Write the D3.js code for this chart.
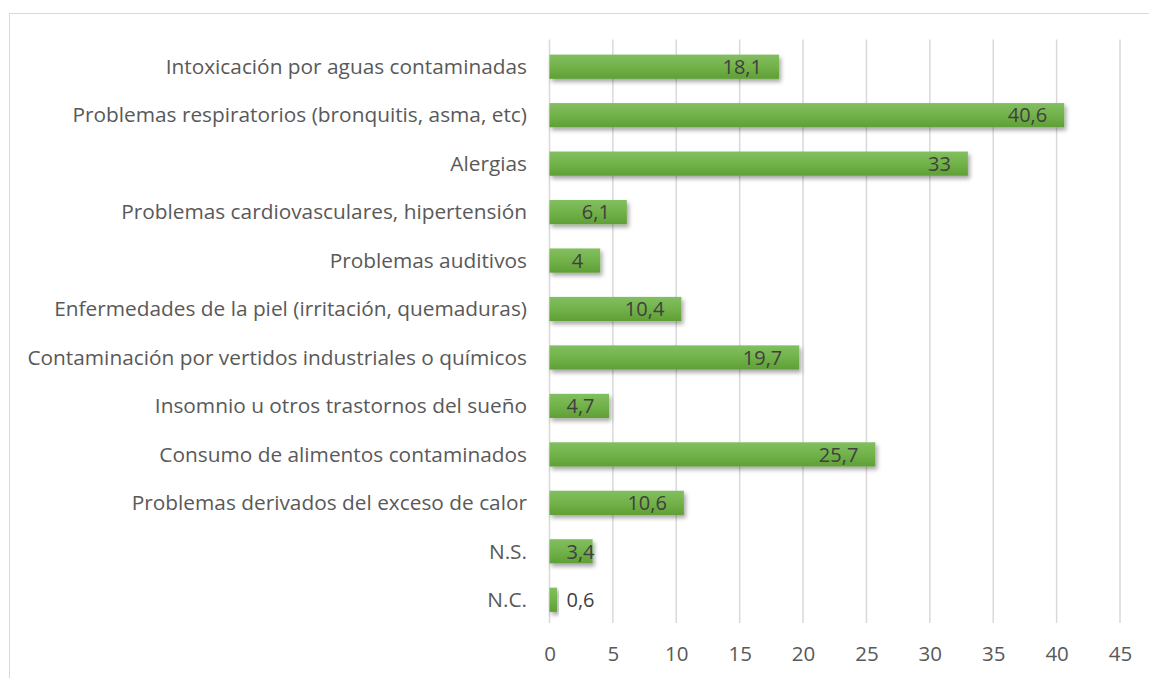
<!DOCTYPE html>
<html><head><meta charset="utf-8">
<script src="https://cdn.jsdelivr.net/npm/d3@7"></script>
<style>
html,body{margin:0;padding:0;background:#fff;}
svg{display:block;}
text{font-family:"Open Sans",Lato,sans-serif;}
</style></head>
<body>
<script>
const categories = [
  "Intoxicación por aguas contaminadas",
  "Problemas respiratorios (bronquitis, asma, etc)",
  "Alergias",
  "Problemas cardiovasculares, hipertensión",
  "Problemas auditivos",
  "Enfermedades de la piel (irritación, quemaduras)",
  "Contaminación por vertidos industriales o químicos",
  "Insomnio u otros trastornos del sueño",
  "Consumo de alimentos contaminados",
  "Problemas derivados del exceso de calor",
  "N.S.",
  "N.C."
];
const values = [18.1, 40.6, 33, 6.1, 4, 10.4, 19.7, 4.7, 25.7, 10.6, 3.4, 0.6];
const xTicks = [0, 5, 10, 15, 20, 25, 30, 35, 40, 45];

const W = 1149, H = 678;
const svg = d3.select("body").append("svg").attr("width", W).attr("height", H);

const defs = svg.append("defs");
const grad = defs.append("linearGradient").attr("id","barGrad").attr("x1",0).attr("y1",0).attr("x2",0).attr("y2",1);
grad.append("stop").attr("offset","0%").attr("stop-color","#82bf60");
grad.append("stop").attr("offset","50%").attr("stop-color","#72b24a");
grad.append("stop").attr("offset","100%").attr("stop-color","#5f9f35");
const f = defs.append("filter").attr("id","shadow").attr("x","-10%").attr("y","-30%").attr("width","130%").attr("height","190%");
f.append("feDropShadow").attr("dx",2).attr("dy",3).attr("stdDeviation",2).attr("flood-color","#000").attr("flood-opacity",0.35);

// chart border
svg.append("rect").attr("x",9.5).attr("y",13.5).attr("width",W).attr("height",H)
  .attr("fill","none").attr("stroke","#d9d9d9").attr("stroke-width",1);

const x = d3.scaleLinear().domain([0,45]).range([549.5,1120]);
const y = d3.scaleBand().domain(categories).range([42.5,624]).paddingInner(0.5).paddingOuter(0.25);

// grid
svg.append("g").selectAll("line").data(xTicks).join("line")
  .attr("x1",d=>x(d)).attr("x2",d=>x(d)).attr("y1",y.range()[0]-3).attr("y2",y.range()[1]-1)
  .attr("stroke","#d9d9d9").attr("stroke-width",1.5);

// x axis labels
const xAxis = d3.axisBottom(x).tickValues(xTicks).tickSize(0).tickPadding(0).tickFormat(d=>String(d));
const gx = svg.append("g").attr("transform","translate(0,646)").call(xAxis);
gx.select(".domain").remove();
gx.selectAll("text").attr("font-size","20.5px").attr("fill","#595959").attr("dy","0.71em").style("font-family","'Open Sans', Lato, sans-serif");

// y axis labels
const yAxis = d3.axisLeft(y).tickSize(0).tickPadding(0);
const gy = svg.append("g").attr("transform","translate(527,0)").call(yAxis);
gy.select(".domain").remove();
const ytexts = gy.selectAll("text").attr("font-size","19px").attr("fill","#595959").attr("dy","0.35em").style("font-family","'Open Sans', Lato, sans-serif");
// fit font size so the longest category label spans the same width as in the reference
let maxW = 0;
ytexts.each(function(){ maxW = Math.max(maxW, this.getComputedTextLength()); });
const fs = 19 * 500 / maxW;
ytexts.attr("font-size", fs + "px");

// bars
const data = categories.map((c,i)=>({c, v: values[i]}));
svg.append("g").selectAll("rect").data(data).join("rect")
  .attr("x", x(0)).attr("y", d=>y(d.c)).attr("width", d=>x(d.v)-x(0)).attr("height", y.bandwidth())
  .attr("fill","url(#barGrad)").attr("filter","url(#shadow)");

// labels
const fmt = v => String(v).replace(".", ",");
const lbl = svg.append("g").selectAll("text").data(data).join("text")
  .attr("y", d=>y(d.c)+y.bandwidth()/2).attr("dy","0.36em")
  .attr("font-size","20px").attr("fill","#404040").attr("text-anchor","start")
  .text(d=>fmt(d.v));
lbl.each(function(d){
  const w = this.getComputedTextLength();
  const end = Math.max(x(d.v)-17, x(0)+17+w);
  d3.select(this).attr("x", end - w);
});
</script>
</body></html>
